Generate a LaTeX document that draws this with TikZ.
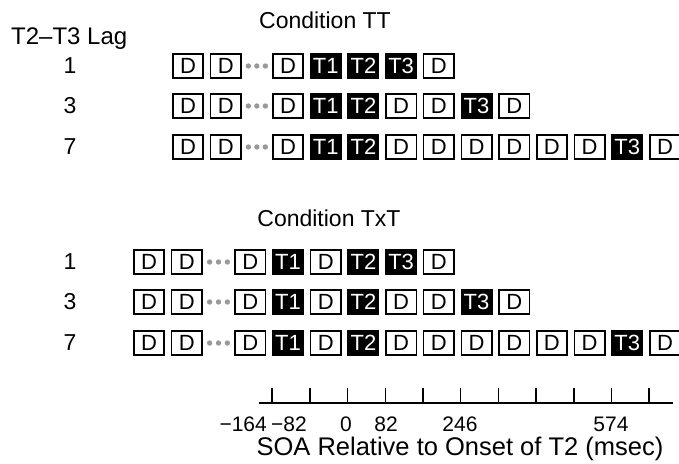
\documentclass[tikz,border=0pt]{standalone}
\usepackage{fontspec}
\setmainfont{Liberation Sans}
\usetikzlibrary{calc}
\begin{document}
\begin{tikzpicture}[x=1pt,y=-1pt,
  lbl/.style={inner sep=0pt,font=\fontsize{23}{27}\selectfont},
  ticklbl/.style={inner sep=0pt,font=\fontsize{21}{25}\selectfont},
  axtitle/.style={inner sep=0pt,font=\fontsize{25.5}{29}\selectfont},
  boxw/.style={draw,line width=1.6pt,fill=white,minimum width=30.4pt,minimum height=24.4pt,inner sep=0pt,font=\fontsize{22}{26}\selectfont},
  boxb/.style={fill=black,text=white,minimum width=32pt,minimum height=26pt,inner sep=0pt,font=\fontsize{22}{26}\selectfont},
  dotc/.style={fill=black!40,draw=none},
  axisline/.style={line width=1.5pt}]
\useasboundingbox (0,0) rectangle (679,463);
% titles
\node[lbl,anchor=west,font=\fontsize{24}{28}\selectfont] (lag) at (11,39) {T2–T3 Lag};
\node[lbl] (ctt) at (325,20) {Condition TT};
\node[lbl] (ctxt) at (329,218) {Condition TxT};
% row labels
\foreach \n/\yy [count=\r] in {1/66,3/106,7/147} {
  \node[lbl] (tl\r) at (70,\yy) {\n};
}
\foreach \n/\yy [count=\r] in {1/262,3/302,7/343} {
  \node[lbl] (xl\r) at (70,\yy) {\n};
}
% rows: name, y, x-center of first box, x-center of first box after the dots, list
\newcommand{\stimrow}[5]{%
  \node[boxw] (#1a) at (#3,#2) {D};
  \node[boxw] (#1b) at ({#3+37.7},#2) {D};
  \foreach \s/\t [count=\i from 0] in {#5} {
    \node[box\s] (#1\i) at ({#4+\i*37.7},#2) {\t};
  }
  \foreach \f in {0.22,0.5,0.78}
    \fill[dotc] ($(#1b.east)!\f!(#10.west)$) circle (2.7pt);
}
\stimrow{ta}{66}{188}{288}{w/D,b/T1,b/T2,b/T3,w/D}
\stimrow{tb}{106}{188}{288}{w/D,b/T1,b/T2,w/D,w/D,b/T3,w/D}
\stimrow{tc}{147}{188}{288}{w/D,b/T1,b/T2,w/D,w/D,w/D,w/D,w/D,w/D,b/T3,w/D}
\stimrow{xa}{262}{149}{250.3}{w/D,b/T1,w/D,b/T2,b/T3,w/D}
\stimrow{xb}{302}{149}{250.3}{w/D,b/T1,w/D,b/T2,w/D,w/D,b/T3,w/D}
\stimrow{xc}{343}{149}{250.3}{w/D,b/T1,w/D,b/T2,w/D,w/D,w/D,w/D,w/D,w/D,b/T3,w/D}
% axis
\coordinate (axl) at (259,403);
\coordinate (axr) at (673,403);
\draw[axisline] (axl) -- (axr);
\foreach \k in {-2,...,8} {
  \coordinate (tk\k) at ({347.6+\k*37.7},403);
  \draw[axisline] (tk\k) -- ++(0,-15);
}
\node[ticklbl,anchor=east] (v1) at (267,424) {−164};
\node[ticklbl,anchor=west] (v2) at (271,424) {−82};
\node[ticklbl] (v3) at (346,424) {0};
\node[ticklbl] (v4) at (386,424) {82};
\node[ticklbl] (v5) at (460,424) {246};
\node[ticklbl] (v6) at (611,424) {574};
\node[axtitle] (axt) at (460,449) {SOA Relative to Onset of T2 (msec)};
\end{tikzpicture}
\end{document}
